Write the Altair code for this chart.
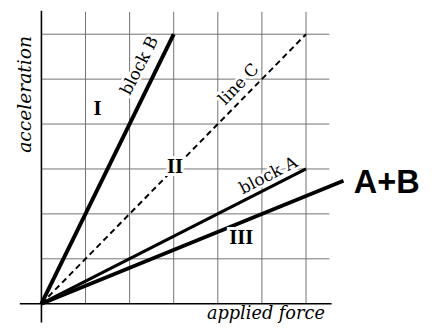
import altair as alt
import pandas as pd

# Grid (data units: one cell = 1)
grid_x = [1, 2, 3, 4, 5, 6]
grid_y = [1, 2, 3, 4, 5, 6]
grid_top = 6.5
grid_right = 6.53

# Lines through the origin: end points
line_names = ["block B", "line C", "block A", "A+B"]
end_x = [3, 6, 6, 6.85]
end_y = [6, 6, 3, 2.74]

# Annotation texts (data coordinates)
label_text = ["block B", "line C", "block A"]
label_x = [2.23, 4.48, 5.15]
label_y = [5.30, 4.88, 2.85]
label_angle = [297, 314, 333]

region_text = ["I", "II", "III"]
region_x = [1.27, 3.03, 4.53]
region_y = [4.34, 3.04, 1.47]

xs = alt.Scale(domain=[-0.758, 8.744], nice=False, zero=False)
ys = alt.Scale(domain=[-0.482, 6.525], nice=False, zero=False)

vgrid = pd.DataFrame({"x": grid_x, "y": [0] * len(grid_x), "y2": [grid_top] * len(grid_x)})
hgrid = pd.DataFrame({"y": grid_y, "x": [0] * len(grid_y), "x2": [grid_right] * len(grid_y)})

vg = alt.Chart(vgrid).mark_rule(color="#707070", strokeWidth=1).encode(
    x=alt.X("x:Q", scale=xs, axis=None),
    y=alt.Y("y:Q", scale=ys, axis=None),
    y2="y2:Q",
)
hg = alt.Chart(hgrid).mark_rule(color="#707070", strokeWidth=1).encode(
    x=alt.X("x:Q", scale=xs, axis=None),
    x2="x2:Q",
    y=alt.Y("y:Q", scale=ys, axis=None),
)

axes_df = pd.DataFrame({
    "x": [-0.49, 0], "x2": [6.58, 0],
    "y": [0, -0.42], "y2": [0, 6.52],
})
ax = alt.Chart(axes_df).mark_rule(color="black", strokeWidth=1.6).encode(
    x=alt.X("x:Q", scale=xs, axis=None), x2="x2:Q",
    y=alt.Y("y:Q", scale=ys, axis=None), y2="y2:Q",
)

lines_df = pd.DataFrame({"name": line_names, "x": [0] * 4, "y": [0] * 4, "x2": end_x, "y2": end_y})

def seg(name, width, dash=None):
    kw = dict(color="black", strokeWidth=width)
    if dash:
        kw["strokeDash"] = dash
    return alt.Chart(lines_df).transform_filter(alt.datum.name == name).mark_rule(**kw).encode(
        x=alt.X("x:Q", scale=xs, axis=None), x2="x2:Q",
        y=alt.Y("y:Q", scale=ys, axis=None), y2="y2:Q",
    )

lB = seg("block B", 4)
lC = seg("line C", 2, [6, 4])
lA = seg("block A", 3.2)
lAB = seg("A+B", 3.8)

lab_df = pd.DataFrame({"t": label_text, "x": label_x, "y": label_y, "a": label_angle})

def lab_layer(halo):
    kw = dict(font="DejaVu Serif", fontSize=17, baseline="middle", align="center")
    if halo:
        kw.update(color="white", stroke="white", strokeWidth=5)
    else:
        kw.update(color="black")
    return alt.Chart(lab_df).mark_text(**kw).encode(
        x=alt.X("x:Q", scale=xs, axis=None),
        y=alt.Y("y:Q", scale=ys, axis=None),
        text="t:N",
        angle=alt.Angle("a:Q", scale=None),
    )

reg_df = pd.DataFrame({"t": region_text, "x": region_x, "y": region_y})

def reg_layer(halo):
    kw = dict(font="Liberation Serif", fontSize=21, fontWeight="bold", baseline="middle", align="center")
    if halo:
        kw.update(color="white", stroke="white", strokeWidth=6)
    else:
        kw.update(color="black")
    return alt.Chart(reg_df).mark_text(**kw).encode(
        x=alt.X("x:Q", scale=xs, axis=None),
        y=alt.Y("y:Q", scale=ys, axis=None),
        text="t:N",
    )

ylab = alt.Chart(pd.DataFrame({"t": ["acceleration"], "x": [-0.38], "y": [4.66]})).mark_text(
    font="DejaVu Serif", fontStyle="italic", fontSize=19, angle=270, color="black",
    baseline="middle", align="center").encode(
    x=alt.X("x:Q", scale=xs, axis=None), y=alt.Y("y:Q", scale=ys, axis=None), text="t:N")

xlab = alt.Chart(pd.DataFrame({"t": ["applied force"], "x": [5.09], "y": [-0.24]})).mark_text(
    font="DejaVu Serif", fontStyle="italic", fontSize=18, color="black",
    baseline="middle", align="center").encode(
    x=alt.X("x:Q", scale=xs, axis=None), y=alt.Y("y:Q", scale=ys, axis=None), text="t:N")

ab = alt.Chart(pd.DataFrame({"t": ["A+B"], "x": [7.83], "y": [2.69]})).mark_text(
    font="Liberation Sans", fontWeight="bold", fontSize=33, color="black",
    baseline="middle", align="center").encode(
    x=alt.X("x:Q", scale=xs, axis=None), y=alt.Y("y:Q", scale=ys, axis=None), text="t:N")

chart = alt.layer(
    vg, hg, ax, lC, lB, lA, lAB,
    lab_layer(True), reg_layer(True),
    lab_layer(False), reg_layer(False),
    ylab, xlab, ab,
).properties(
    width=426, height=320,
    autosize=alt.AutoSizeParams(type="none"),
    padding=0,
    background="white",
).configure_view(stroke=None)

chart.save("out.html", embed_options={"renderer": "svg", "actions": False})
